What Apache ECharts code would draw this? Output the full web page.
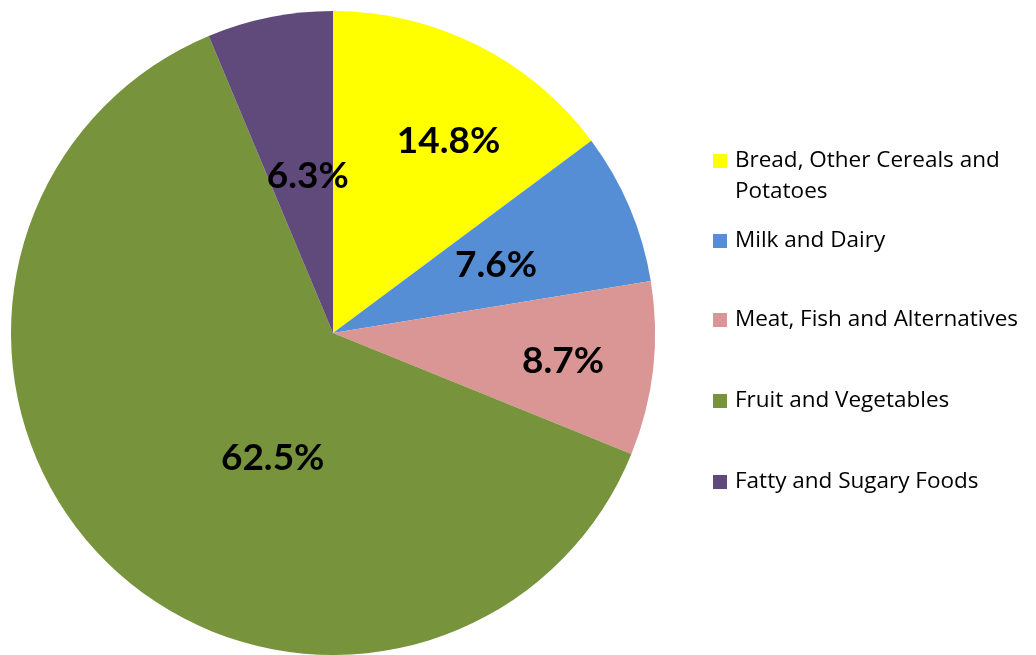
<!DOCTYPE html>
<html>
<head>
<meta charset="utf-8">
<script src="https://cdn.jsdelivr.net/npm/echarts@6/dist/echarts.min.js"></script>
<style>
  html, body { margin: 0; padding: 0; background: #ffffff; }
  #chart { width: 1036px; height: 655px; }
</style>
</head>
<body>
<div id="chart"></div>
<script>
// Food groups and their share of the plate (%)
const categories = [
  'Bread, Other Cereals and Potatoes',
  'Milk and Dairy',
  'Meat, Fish and Alternatives',
  'Fruit and Vegetables',
  'Fatty and Sugary Foods'
];
const shares = [14.8, 7.6, 8.7, 62.5, 6.3];

// Slice colours, in category order
const sliceColors = ['#FFFF00', '#558ED5', '#D99694', '#77933C', '#604A7B'];
// Nudges for the in-slice percentage labels
const labelOffsets = [[42, -45], [12, -4], [67, 10], [55, 8], [7, 4]];
// Vertical position of each legend entry (icon centre line)
const legendRows = [160, 240, 319, 400, 481];
// Legend text; the first entry wraps onto a second line
const legendText = [
  'Bread, Other Cereals and',
  'Milk and Dairy',
  'Meat, Fish and Alternatives',
  'Fruit and Vegetables',
  'Fatty and Sugary Foods'
];
const wrappedLine = 'Potatoes';

const LEGEND_FONT = '"Open Sans", Lato, sans-serif';
const LABEL_FONT = 'Lato, "Open Sans", sans-serif';
const LEGEND_SIZE = 22.5;

const chart = echarts.init(document.getElementById('chart'), null, { renderer: 'canvas' });

const legends = categories.map((name, i) => ({
  orient: 'vertical',
  left: 708,
  top: legendRows[i] - 20,
  data: [name],
  icon: 'rect',
  itemWidth: 14,
  itemHeight: 14,
  selectedMode: false,
  formatter: () => legendText[i],
  textStyle: {
    fontFamily: LEGEND_FONT,
    fontSize: LEGEND_SIZE,
    color: '#000000',
    lineHeight: 32,
    padding: [0, 0, 0, 3]
  }
}));

chart.setOption({
  animation: false,
  color: sliceColors,
  legend: legends,
  graphic: [{
    type: 'text',
    left: 735,
    top: 192 - 16,
    style: {
      text: wrappedLine,
      fontFamily: LEGEND_FONT,
      fontSize: LEGEND_SIZE,
      lineHeight: 32,
      fill: '#000000'
    }
  }],
  series: [{
    type: 'pie',
    center: [333, 333],
    radius: 322,
    startAngle: 90,
    clockwise: true,
    avoidLabelOverlap: false,
    emphasis: { disabled: true },
    itemStyle: { borderWidth: 0 },
    label: {
      show: true,
      position: 'inside',
      formatter: p => p.value.toFixed(1) + '%',
      fontFamily: LABEL_FONT,
      fontWeight: 'bold',
      fontSize: 37,
      color: '#000000'
    },
    labelLine: { show: false },
    data: categories.map((name, i) => ({
      name,
      value: shares[i],
      label: { offset: labelOffsets[i] }
    }))
  }]
});
</script>
</body>
</html>
